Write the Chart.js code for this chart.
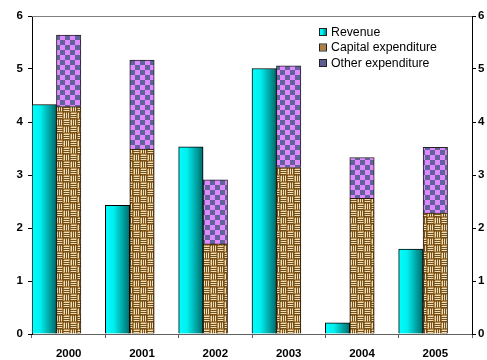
<!DOCTYPE html>
<html>
<head>
<meta charset="utf-8">
<script src="https://cdn.jsdelivr.net/npm/chart.js@4.4.0/dist/chart.umd.min.js"></script>
<style>
  html, body { margin: 0; padding: 0; background: #fff; }
  #wrap { width: 487px; height: 360px; }
</style>
</head>
<body>
<div id="wrap"><canvas id="myChart" width="487" height="360"></canvas></div>
<script>
// values (per cent)
const years = ['2000', '2001', '2002', '2003', '2004', '2005']
const revenue = [4.33, 2.43, 3.53, 5.01, 0.21, 1.6]
const capital = [4.29, 3.49, 1.7, 3.14, 2.56, 2.28]
const other = [1.35, 1.68, 1.21, 1.92, 0.77, 1.24]
const yMin = 0
const yMax = 6

const legendLabels = ['Revenue', 'Capital expenditure', 'Other expenditure']

// checker pattern for "Other expenditure"
function makeChecker() {
  const c = document.createElement('canvas')
  c.width = 10
  c.height = 10
  const g = c.getContext('2d')
  g.fillStyle = '#e088ff'
  g.fillRect(0, 0, 10, 10)
  g.fillStyle = '#62629a'
  g.fillRect(0, 0, 5, 5)
  g.fillRect(5, 5, 5, 5)
  return g.createPattern(c, 'repeat')
}

// woven (burlap like) pattern for "Capital expenditure"
function makeBurlap() {
  const c = document.createElement('canvas')
  c.width = 14
  c.height = 14
  const g = c.getContext('2d')
  g.fillStyle = '#b48848'
  g.fillRect(0, 0, 14, 14)
  for (let by = 0; by < 2; by++) {
    for (let bx = 0; bx < 2; bx++) {
      const x0 = bx * 7
      const y0 = by * 7
      const horiz = (bx + by) % 2 === 0
      for (let k = 0; k < 3; k++) {
        g.fillStyle = '#f0dfb4'
        if (horiz) g.fillRect(x0 + 1, y0 + k * 2 + 1, 5, 1)
        else g.fillRect(x0 + k * 2 + 1, y0 + 1, 1, 5)
        g.fillStyle = '#74501c'
        if (horiz) g.fillRect(x0, y0 + k * 2 + 2, 7, 1)
        else g.fillRect(x0 + k * 2 + 2, y0, 1, 7)
      }
      g.fillStyle = '#6a4616'
      g.fillRect(x0, y0, 1, 1)
    }
  }
  return g.createPattern(c, 'repeat')
}

const checker = makeChecker()
const burlap = makeBurlap()

function cyanGradient(ctx, left, right) {
  const gr = ctx.createLinearGradient(left, 0, right, 0)
  gr.addColorStop(0, '#00ffff')
  gr.addColorStop(0.35, '#00eeee')
  gr.addColorStop(1, '#006a6a')
  return gr
}

// horizontal gradient for each revenue bar
function revenueFill(context) {
  const chart = context.chart
  const xs = chart.scales.x
  if (!xs || !chart.chartArea || context.type !== 'data') return '#00dddd'
  const catW = xs.width / years.length
  const left = xs.getPixelForTick(context.dataIndex) - catW / 2
  return cyanGradient(chart.ctx, left, left + catW / 3)
}

// legend drawn inside the plot + gray top line
const insideLegend = {
  id: 'insideLegend',
  afterDraw(chart) {
    const ctx = chart.ctx
    const area = chart.chartArea
    ctx.save()
    ctx.strokeStyle = '#808080'
    ctx.lineWidth = 1
    ctx.beginPath()
    ctx.moveTo(area.left, area.top + 0.5)
    ctx.lineTo(area.right, area.top + 0.5)
    ctx.stroke()

    const fills = [cyanGradient(ctx, 320, 327), '#b08040', '#5e5e92']
    ctx.font = '12.3px "Liberation Sans", Arial, sans-serif'
    ctx.textBaseline = 'middle'
    legendLabels.forEach((label, i) => {
      const y = 32 + i * 15.5
      ctx.fillStyle = fills[i]
      ctx.fillRect(320, y - 3, 6, 6)
      ctx.strokeStyle = '#222'
      ctx.strokeRect(319.5, y - 3.5, 7, 7)
      ctx.fillStyle = '#000'
      ctx.fillText(label, 331, y + 0.5)
    })
    ctx.restore()
  },
}

const tickFont = { family: '"Liberation Sans", Arial, sans-serif', size: 11.5, weight: 'bold' }

const ctx = document.getElementById('myChart').getContext('2d')
const chart = new Chart(ctx, {
  type: 'bar',
  data: {
    labels: years,
    datasets: [
      {
        label: legendLabels[0],
        data: revenue,
        stack: 'rev',
        backgroundColor: revenueFill,
        borderColor: '#000',
        borderWidth: 1,
      },
      {
        label: legendLabels[1],
        data: capital,
        stack: 'exp',
        backgroundColor: burlap,
        borderColor: '#2a1a08',
        borderWidth: 1,
      },
      {
        label: legendLabels[2],
        data: other,
        stack: 'exp',
        backgroundColor: checker,
        borderColor: '#222',
        borderWidth: 1,
      },
      {
        // empty stack so the pair sits left in each category
        label: '',
        data: years.map(() => null),
        stack: 'gap',
        backgroundColor: 'rgba(0,0,0,0)',
      },
    ],
  },
  options: {
    responsive: false,
    animation: false,
    devicePixelRatio: 1,
    categoryPercentage: 1,
    barPercentage: 1,
    layout: { padding: { top: 16, left: 0, right: 0, bottom: 0 } },
    plugins: {
      legend: { display: false },
      tooltip: { enabled: false },
    },
    scales: {
      x: {
        stacked: true,
        grid: {
          offset: true,
          drawOnChartArea: false,
          drawTicks: true,
          tickLength: 4,
          color: '#606060',
        },
        border: { display: true, color: '#606060', width: 1 },
        ticks: { color: '#000', font: tickFont, padding: 9, maxRotation: 0 },
        afterFit: (s) => { s.height = 26 },
      },
      y: {
        stacked: true,
        position: 'left',
        min: yMin,
        max: yMax,
        grid: { drawOnChartArea: false, tickLength: 4, color: '#000' },
        border: { display: true, color: '#000', width: 1 },
        ticks: { stepSize: 1, color: '#000', font: tickFont, padding: 5 },
        afterFit: (s) => { s.width = 32 },
      },
      y2: {
        position: 'right',
        min: yMin,
        max: yMax,
        grid: { drawOnChartArea: false, tickLength: 4, color: '#000' },
        border: { display: true, color: '#000', width: 1 },
        ticks: { stepSize: 1, color: '#000', font: tickFont, padding: 2 },
        afterFit: (s) => { s.width = 15 },
      },
    },
  },
  plugins: [insideLegend],
})
</script>
</body>
</html>
